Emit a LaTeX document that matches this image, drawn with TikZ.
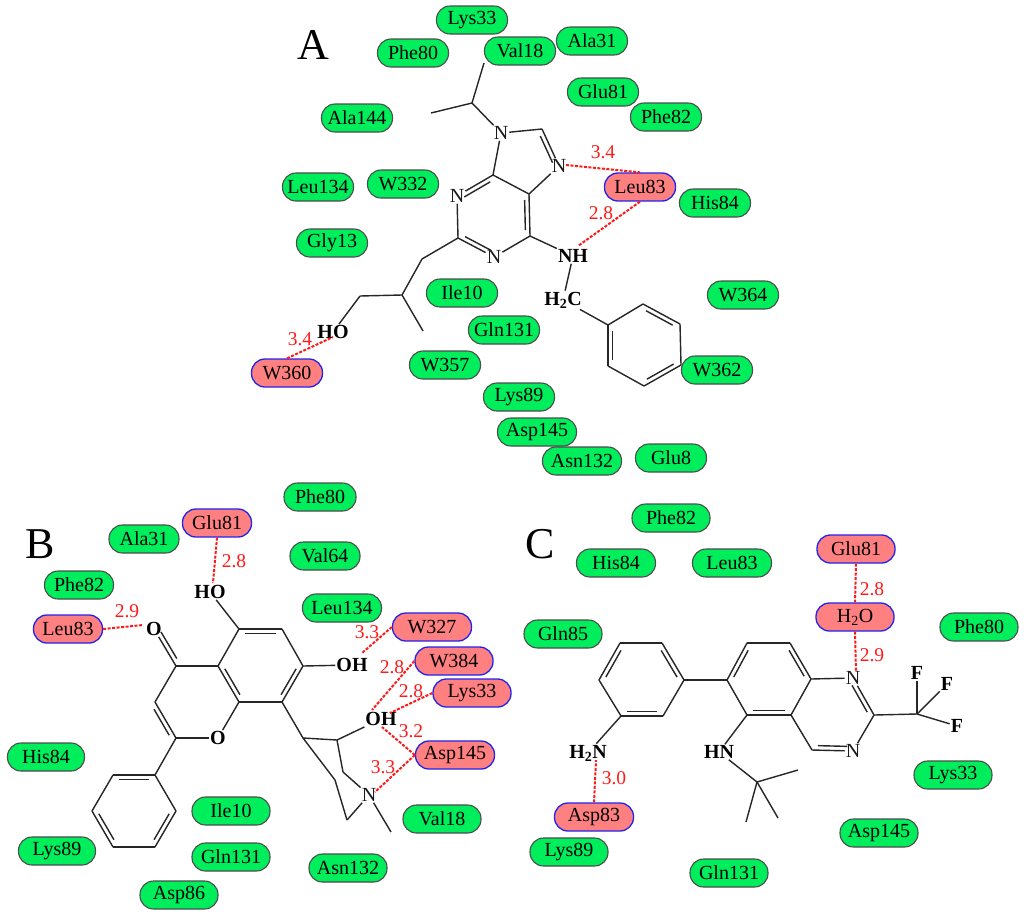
\documentclass[tikz,border=0pt]{standalone}
\usepackage{fontspec}
\setmainfont{Liberation Serif}
\usetikzlibrary{calc}
\definecolor{pillgreen}{HTML}{00EE5C}
\definecolor{pillred}{HTML}{FF8080}
\definecolor{pillblue}{HTML}{2222EE}
\definecolor{hbred}{HTML}{FF1A1A}
\tikzset{
  pill/.style={rectangle,rounded corners=13.5pt,minimum height=28pt,inner sep=0pt,font=\fontsize{20}{20}\selectfont,text=black},
  gpill/.style={pill,draw=black!70,fill=pillgreen,line width=1.1pt},
  rpill/.style={pill,draw=pillblue,fill=pillred,line width=1.3pt},
  bond/.style={draw=black!85,line width=1.4pt},
  atom/.style={inner sep=1pt,font=\fontsize{20}{20}\selectfont,text=black!90},
  batom/.style={inner sep=1pt,font=\fontsize{20}{20}\selectfont\bfseries,text=black},
  hbond/.style={draw=hbred,line width=2pt,dash pattern=on 3pt off 1.5pt},
  dist/.style={text=hbred,inner sep=0pt,font=\fontsize{19.5}{19.5}\selectfont},
  panel/.style={inner sep=0pt,font=\fontsize{44}{44}\selectfont,text=black}
}
\newcommand\pl[6]{\node[#2,minimum width=#3pt] (#1) at (#4,#5) {#6};}
\newcommand\sgl[1]{\foreach \a/\b in {#1} \draw[bond] (\a) -- (\b);}
\newcommand\dbl[1]{\foreach \a/\b in {#1} \draw[bond] ($(\a)!.14!(\b)!4.5pt!90:(\b)$) -- ($(\b)!.14!(\a)!-4.5pt!90:(\a)$);}
\begin{document}
\begin{tikzpicture}[x=1pt,y=-1pt]
\useasboundingbox (0,0) rectangle (1024,916);
\fill[white] (0,0) rectangle (1024,916);
% panel letters
\node[panel] (lA) at (313,45) {A};
\node[panel] (lB) at (40,544) {B};
\node[panel] (lC) at (540,544) {C};
% === panel A residues
\pl{aLys33}{gpill}{71}{472}{20}{Lys33}
\pl{aPhe80}{gpill}{71}{413}{53}{Phe80}
\pl{aVal18}{gpill}{71}{520}{51}{Val18}
\pl{aAla31}{gpill}{71}{592}{41}{Ala31}
\pl{aGlu81}{gpill}{71}{603}{92}{Glu81}
\pl{aPhe82}{gpill}{71}{666}{117}{Phe82}
\pl{aAla144}{gpill}{71}{357}{118}{Ala144}
\pl{aLeu134}{gpill}{71}{318}{187}{Leu134}
\pl{aW332}{gpill}{71}{403}{184}{W332}
\pl{aLeu83}{rpill}{71}{640}{187}{Leu83}
\pl{aHis84}{gpill}{71}{715}{203}{His84}
\pl{aGly13}{gpill}{71}{332}{243}{Gly13}
\pl{aW364}{gpill}{71}{743}{295}{W364}
\pl{aIle10}{gpill}{71}{462}{293}{Ile10}
\pl{aGln131}{gpill}{71}{504}{330}{Gln131}
\pl{aW360}{rpill}{71}{287}{373}{W360}
\pl{aW357}{gpill}{71}{445}{365}{W357}
\pl{aW362}{gpill}{71}{717}{370}{W362}
\pl{aLys89}{gpill}{71}{519}{397}{Lys89}
\pl{aAsp145}{gpill}{79}{537}{432}{Asp145}
\pl{aAsn132}{gpill}{79}{582}{461}{Asn132}
\pl{aGlu8}{gpill}{71}{671}{458}{Glu8}
% panel A molecule
\coordinate (aiT) at (484,63); \coordinate (aiC) at (472,103); \coordinate (aiL) at (431,113);
\node[atom] (aN9) at (501,133) {N};
\coordinate (aC8) at (542,129);
\node[atom] (aN7) at (559,166) {N};
\coordinate (aC5) at (529,194); \coordinate (aC4) at (493,175);
\node[atom] (aN3) at (457,196) {N};
\coordinate (aC2) at (458,238);
\node[atom] (aN1) at (494,257) {N};
\coordinate (aC6) at (530,236);
\node[batom] (aNH) at (573,256) {NH};
\node[batom] (aCH) at (563,300) {H\textsubscript{2}C};
\coordinate (ap1) at (608,325); \coordinate (ap2) at (643,304); \coordinate (ap3) at (680,324);
\coordinate (ap4) at (681,365); \coordinate (ap5) at (644,386); \coordinate (ap6) at (608,366);
\coordinate (ac1) at (422,259); \coordinate (ac2) at (402,295); \coordinate (ac3) at (360,296); \coordinate (ac4) at (423,331);
\node[batom] (aHO) at (333,332) {HO};
\sgl{aiT/aiC,aiL/aiC,aiC/aN9,aN9/aC8,aC8/aN7,aN7/aC5,aC5/aC4,aC4/aN9,aC4/aN3,aN3/aC2,aC2/aN1,aN1/aC6,aC6/aC5,aC6/aNH,aNH/aCH,aCH/ap1,ap1/ap2,ap2/ap3,ap3/ap4,ap4/ap5,ap5/ap6,ap6/ap1,aC2/ac1,ac1/ac2,ac2/ac3,ac3/aHO,ac2/ac4}
\dbl{aC6/aC5,aC4/aN3,aC2/aN1,aN7/aC8,ap3/ap2,ap5/ap4,ap1/ap6}
\coordinate (aN7r) at (566,165); \coordinate (aNHt) at (578,246); \coordinate (aHOb) at (333,337);
\draw[hbond] (aN7r) -- (aLeu83.north);
\draw[hbond] (aLeu83.south) -- (aNHt);
\draw[hbond] (aW360.north) -- (aHOb);
\node[dist] (ad1) at (603,152) {3.4};
\node[dist] (ad2) at (601,213) {2.8};
\node[dist] (ad3) at (300,339) {3.4};
% === panel B residues
\pl{bPhe80}{gpill}{72}{320}{497}{Phe80}
\pl{bGlu81}{rpill}{69}{217}{523}{Glu81}
\pl{bAla31}{gpill}{70}{144}{539}{Ala31}
\pl{bVal64}{gpill}{70}{325}{556}{Val64}
\pl{bPhe82}{gpill}{69}{79}{585}{Phe82}
\pl{bLeu83}{rpill}{69}{68}{629}{Leu83}
\pl{bLeu134}{gpill}{79}{342}{608}{Leu134}
\pl{bW327}{rpill}{79}{432}{627}{W327}
\pl{bW384}{rpill}{78}{454}{661}{W384}
\pl{bLys33}{rpill}{78}{472}{693}{Lys33}
\pl{bAsp145}{rpill}{79}{455}{755}{Asp145}
\pl{bHis84}{gpill}{77}{46}{757}{His84}
\pl{bVal18}{gpill}{78}{442}{819}{Val18}
\pl{bIle10}{gpill}{78}{231}{811}{Ile10}
\pl{bGln131}{gpill}{78}{231}{857}{Gln131}
\pl{bLys89}{gpill}{77}{57}{851}{Lys89}
\pl{bAsn132}{gpill}{78}{348}{868}{Asn132}
\pl{bAsp86}{gpill}{78}{179}{895}{Asp86}
% panel B molecule
\node[batom] (bOc) at (154,629) {O};
\coordinate (bC4) at (176,666); \coordinate (bC3) at (155,702); \coordinate (bC2) at (176,738);
\node[batom] (bO1) at (218,738) {O};
\coordinate (bC8a) at (239,702); \coordinate (bC4a) at (218,666); \coordinate (bC5) at (239,629);
\coordinate (bC6) at (282,629); \coordinate (bC7) at (303,666); \coordinate (bC8) at (282,702);
\node[batom] (bHO) at (210,592) {HO};
\node[batom] (bOH) at (352,665) {OH};
\node[batom] (bOH2) at (381,719) {OH};
\coordinate (bs1) at (303,738); \coordinate (bs2) at (337,740); \coordinate (bs3) at (343,772);
\coordinate (bs4) at (335,780); \coordinate (bs5) at (347,820); \coordinate (bs6) at (391,832);
\node[atom] (bN) at (369,795) {N};
\coordinate (bp1) at (155,775); \coordinate (bp2) at (176,811); \coordinate (bp3) at (155,847);
\coordinate (bp4) at (113,847); \coordinate (bp5) at (92,811); \coordinate (bp6) at (113,775);
\sgl{bOc/bC4,bC4/bC3,bC3/bC2,bC2/bO1,bO1/bC8a,bC8a/bC4a,bC4a/bC4,bC4a/bC5,bC5/bC6,bC6/bC7,bC7/bC8,bC8/bC8a,bC5/bHO,bC7/bOH,bC8/bs1,bs1/bs2,bs2/bOH2,bs2/bs3,bs3/bN,bs1/bs4,bs4/bs5,bs5/bN,bN/bs6,bC2/bp1,bp1/bp2,bp2/bp3,bp3/bp4,bp4/bp5,bp5/bp6,bp6/bp1}
\dbl{bC6/bC5,bC8/bC7,bC4a/bC8a,bC2/bC3,bp1/bp6,bp3/bp2,bp5/bp4,bOc/bC4}
\coordinate (bHOt) at (213,583); \coordinate (bOl) at (143,625); \coordinate (bOHt) at (362,653);
\coordinate (bOH2t) at (372,710); \coordinate (bOH2r) at (390,713); \coordinate (bOH2b) at (382,727); \coordinate (bNr) at (375,792);
\draw[hbond] (bGlu81.south) -- (bHOt);
\draw[hbond] (bLeu83.east) -- (bOl);
\draw[hbond] (bW327.west) -- (bOHt);
\draw[hbond] (bW384.west) -- (bOH2t);
\draw[hbond] (bLys33.west) -- (bOH2r);
\draw[hbond] (bAsp145.west) -- (bOH2b);
\draw[hbond] (bAsp145.west) -- (bNr);
\node[dist] (bd1) at (234,561) {2.8};
\node[dist] (bd2) at (127,611) {2.9};
\node[dist] (bd3) at (367,632) {3.3};
\node[dist] (bd4) at (392,667) {2.8};
\node[dist] (bd5) at (411,691) {2.8};
\node[dist] (bd6) at (411,731) {3.2};
\node[dist] (bd7) at (383,767) {3.3};
% === panel C residues
\pl{cPhe82}{gpill}{78}{671}{518}{Phe82}
\pl{cHis84}{gpill}{79}{616}{563}{His84}
\pl{cLeu83}{gpill}{79}{732}{563}{Leu83}
\pl{cGlu81}{rpill}{78}{856}{549}{Glu81}
\pl{cH2O}{rpill}{78}{855}{617}{H\textsubscript{2}O}
\pl{cGln85}{gpill}{78}{563}{634}{Gln85}
\pl{cPhe80}{gpill}{78}{979}{627}{Phe80}
\pl{cLys33}{gpill}{78}{953}{775}{Lys33}
\pl{cAsp145}{gpill}{78}{879}{833}{Asp145}
\pl{cAsp83}{rpill}{79}{594}{817}{Asp83}
\pl{cLys89}{gpill}{78}{569}{852}{Lys89}
\pl{cGln131}{gpill}{78}{729}{873}{Gln131}
% panel C molecule
\coordinate (cr1) at (620,643); \coordinate (cr2) at (662,643); \coordinate (cr3) at (684,680);
\coordinate (cr4) at (663,716); \coordinate (cr5) at (621,716); \coordinate (cr6) at (599,680);
\coordinate (cq1) at (747,643); \coordinate (cq2) at (790,643); \coordinate (cq3) at (811,679);
\coordinate (cq4) at (791,715); \coordinate (cq5) at (747,715); \coordinate (cq6) at (727,680);
\node[atom] (cN1) at (853,678) {N};
\coordinate (cC2) at (874,715);
\node[atom] (cN3) at (853,751) {N};
\coordinate (cC4) at (812,750);
\coordinate (cCF) at (917,714);
\node[batom] (cF1) at (917,673) {F};
\node[batom] (cF2) at (947,684) {F};
\node[batom] (cF3) at (957,726) {F};
\node[batom] (cNH2) at (588,753) {H\textsubscript{2}N};
\node[batom] (cHN) at (719,752) {HN};
\coordinate (ct) at (757,782); \coordinate (ct1) at (798,770); \coordinate (ct2) at (746,822); \coordinate (ct3) at (778,818);
\sgl{cr1/cr2,cr2/cr3,cr3/cr4,cr4/cr5,cr5/cr6,cr6/cr1,cr5/cNH2,cr3/cq6,cq1/cq2,cq2/cq3,cq3/cq4,cq4/cq5,cq5/cq6,cq6/cq1,cq3/cN1,cN1/cC2,cC2/cN3,cN3/cC4,cC4/cq4,cC2/cCF,cCF/cF1,cCF/cF2,cCF/cF3,cq5/cHN,cHN/ct,ct/ct1,ct/ct2,ct/ct3}
\dbl{cr3/cr2,cr5/cr4,cr1/cr6,cq3/cq2,cq5/cq4,cq1/cq6,cC2/cN1,cC4/cN3}
\coordinate (cN1t) at (856,672); \coordinate (cNH2b) at (596,760);
\draw[hbond] (cGlu81.south) -- (cH2O.north);
\draw[hbond] (cH2O.south) -- (cN1t);
\draw[hbond] (cAsp83.north) -- (cNH2b);
\node[dist] (cd1) at (872,589) {2.8};
\node[dist] (cd2) at (872,655) {2.9};
\node[dist] (cd3) at (614,778) {3.0};
\end{tikzpicture}
\end{document}
